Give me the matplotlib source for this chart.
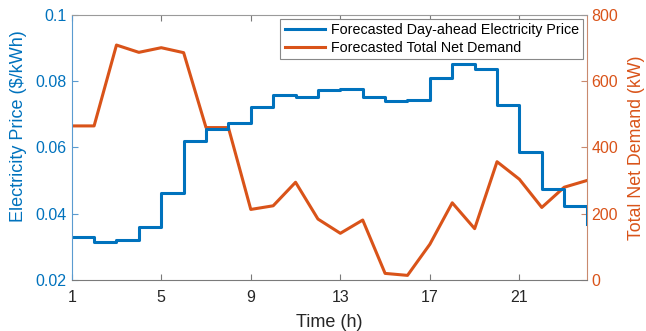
import numpy as np
import matplotlib
matplotlib.use('Agg')
import matplotlib.pyplot as plt

plt.rcParams['font.family'] = ['Liberation Sans', 'DejaVu Sans']

# 每小时数据
hours = np.arange(1, 25)
price = [0.0331, 0.0316, 0.0321, 0.0361, 0.0464, 0.0618, 0.0657, 0.0675,
         0.0723, 0.0757, 0.0752, 0.0773, 0.0777, 0.0751, 0.0740, 0.0743,
         0.0810, 0.0853, 0.0837, 0.0727, 0.0585, 0.0475, 0.0424, 0.0368]
demand = [465, 465, 709, 687, 701, 686, 460, 460, 213, 224, 295, 184,
          141, 181, 20, 14, 108, 233, 155, 357, 304, 219, 280, 300]
xticks = [1, 5, 9, 13, 17, 21]

blue = '#0072BD'
orange = '#D95319'

fig = plt.figure(figsize=(6.46, 3.31), dpi=100)
ax = fig.add_axes([0.111, 0.154, 0.797, 0.801])
ax2 = ax.twinx()

l1, = ax.step(hours, price, where='post', color=blue, lw=2.2,
              label='Forecasted Day-ahead Electricity Price')
l2, = ax2.plot(hours, demand, color=orange, lw=2.2,
               label='Forecasted Total Net Demand')

ax.set_xlim(1, 24)
ax.set_xticks(xticks)
ax.set_ylim(0.02, 0.1)
ax.set_yticks([0.02, 0.04, 0.06, 0.08, 0.1])
ax.set_yticklabels(['0.02', '0.04', '0.06', '0.08', '0.1'])
ax2.set_ylim(0, 800)
ax2.set_yticks([0, 200, 400, 600, 800])

ax.set_xlabel('Time (h)', fontsize=13, color='#262626', labelpad=7)
ax.set_ylabel('Electricity Price (\\$/kWh)', fontsize=13, color=blue)
ax.yaxis.set_label_coords(-0.087, 0.58)
ax2.set_ylabel('Total Net Demand (kW)', fontsize=12.8, color=orange, labelpad=7)

# 坐标轴样式
ax.spines['top'].set_color('#9a9a9a')
ax.spines['left'].set_color('#5a9bd0')
ax.spines['bottom'].set_color('#7a7a7a')
ax.spines['right'].set_visible(False)
ax2.spines['top'].set_visible(False)
ax2.spines['left'].set_visible(False)
ax2.spines['bottom'].set_visible(False)
ax2.spines['right'].set_color('#c98a6e')

ax.tick_params(axis='x', direction='in', top=True, colors='#7a7a7a',
               labelcolor='#262626', labelsize=11.5, length=4, pad=7)
ax.tick_params(axis='y', direction='in', colors='#5a9bd0', labelcolor=blue,
               labelsize=11.5, length=4)
ax2.tick_params(axis='y', direction='in', colors='#c98a6e', labelcolor=orange,
                labelsize=11.5, length=4)

leg = ax.legend(handles=[l1, l2], loc='upper right', fontsize=10.3,
                fancybox=False, framealpha=1, edgecolor='#888888',
                handlelength=2.8, handletextpad=0.4, borderpad=0.3,
                labelspacing=0.25, borderaxespad=0,
                bbox_to_anchor=(0.993, 0.985))
leg.get_frame().set_linewidth(0.8)
ax.set_zorder(ax2.get_zorder() + 1)
ax.patch.set_visible(False)

plt.savefig('out.png', dpi=100)
